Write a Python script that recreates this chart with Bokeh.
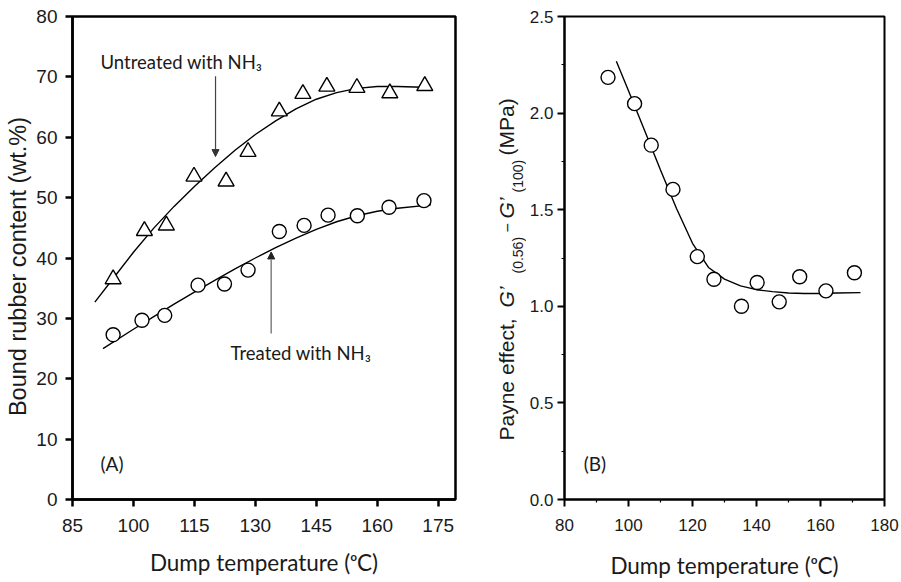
from bokeh.plotting import figure
from bokeh.models import Range1d, Label, Arrow, NormalHead, FixedTicker, NumeralTickFormatter
from bokeh.layouts import row
from bokeh.embed import file_html
from bokeh.resources import INLINE

# ---------------- data: panel (A) ----------------
temp_untreated = [95.0, 102.7, 108.1, 114.9, 122.8, 128.2, 135.9, 141.7, 147.6, 155.0, 163.1, 171.7]
bound_untreated = [36.5, 44.5, 45.4, 53.5, 52.7, 57.6, 64.3, 67.2, 68.4, 68.2, 67.3, 68.5]
temp_treated = [95.0, 102.1, 107.7, 115.9, 122.4, 128.2, 135.9, 142.0, 147.9, 155.1, 162.9, 171.5]
bound_treated = [27.3, 29.7, 30.5, 35.5, 35.7, 38.0, 44.4, 45.4, 47.1, 47.0, 48.4, 49.5]

fit_untreated_x = [90.5, 95, 100, 105, 110, 115, 120, 125, 130, 135, 140, 145, 150, 155, 160, 165, 173.2]
fit_untreated_y = [32.7, 36.6, 40.95, 44.95, 48.55, 51.85, 54.95, 57.85, 60.45, 62.7, 64.7, 66.3, 67.4, 68.1, 68.4, 68.4, 68.25]
fit_treated_x = [92.5, 100, 105, 110, 115, 120, 125, 130, 135, 140, 145, 150, 155, 160, 165, 173.2]
fit_treated_y = [25.0, 28.2, 30.3, 32.35, 34.35, 36.3, 38.2, 40.0, 41.7, 43.3, 44.75, 46.0, 47.0, 47.75, 48.25, 48.8]

a_xticks = [85, 100, 115, 130, 145, 160, 175]
a_yticks = [0, 10, 20, 30, 40, 50, 60, 70, 80]

# ---------------- data: panel (B) ----------------
temp_b = [93.6, 101.9, 107.1, 113.9, 121.5, 126.7, 135.3, 140.2, 147.1, 153.5, 161.7, 170.6]
payne_b = [2.185, 2.049, 1.834, 1.605, 1.257, 1.140, 1.000, 1.123, 1.023, 1.153, 1.080, 1.174]
fit_b_x = [96.2, 100, 105, 110, 115, 120, 125, 130, 135, 140, 145, 150, 155, 160, 165, 172.5]
fit_b_y = [2.268, 2.116, 1.911, 1.706, 1.506, 1.326, 1.201, 1.141, 1.106, 1.086, 1.076, 1.0685, 1.066, 1.066, 1.0685, 1.071]

b_xticks = [80, 100, 120, 140, 160, 180]
b_xminor = [90, 110, 130, 150, 170]
b_yticks = [0.0, 0.5, 1.0, 1.5, 2.0, 2.5]
b_yminor = [0.25, 0.75, 1.25, 1.75, 2.25]

TICK_FONT = "Liberation Sans"
CAL_FONT = "Lato"
TXT = "#1a1a1a"
H = 581
TOP = 16           # frame top (page px)
BOT = 499          # frame bottom (page px)
BB = H - BOT       # bottom border


def style(p, lw, tick_size):
    p.xgrid.visible = False
    p.ygrid.visible = False
    p.outline_line_color = "black"
    p.outline_line_width = lw
    p.outline_line_alpha = 1.0
    p.background_fill_color = "white"
    p.border_fill_color = "white"
    for ax in (p.xaxis[0], p.yaxis[0]):
        ax.axis_line_width = lw
        ax.axis_line_color = "black"
        ax.major_tick_line_width = lw
        ax.major_tick_line_color = "black"
        ax.major_tick_out = 7
        ax.major_tick_in = 0
        ax.minor_tick_in = 0
        ax.minor_tick_out = 3
        ax.minor_tick_line_width = 1.2
        ax.minor_tick_line_color = "black"
        ax.major_label_text_font = TICK_FONT
        ax.major_label_text_font_size = tick_size
        ax.major_label_text_color = TXT
        ax.axis_label_text_font_style = "normal"
        ax.axis_label_text_color = TXT


def strip(x0, x1):
    """Narrow text-only figure whose y range equals page pixels (frames are row-aligned)."""
    s = figure(width=x1 - x0, height=H, x_range=Range1d(x0, x1), y_range=Range1d(BOT, TOP),
               output_backend="svg", toolbar_location=None, x_axis_type=None, y_axis_type=None,
               min_border_left=0, min_border_right=0, min_border_top=TOP, min_border_bottom=BB)
    s.xgrid.visible = False
    s.ygrid.visible = False
    s.outline_line_color = None
    s.background_fill_color = "white"
    s.border_fill_color = "white"
    return s


ROT = 1.5707963
MID = 0.347   # offset (in em) between the alphabetic baseline and the box centre


def rot_label(fig, base_x, y, text, size, style="normal", align="left", font=TICK_FONT):
    fig.add_layout(Label(x=base_x - MID * size, y=y, text=text, text_font=font,
                         text_font_size=f"{size}px", text_font_style=style,
                         text_align=align, text_baseline="middle",
                         angle=ROT, text_color=TXT))


# ============ strip with the y label of panel A ============
SL0, SL1 = 0, 32
sA = strip(SL0, SL1)
rot_label(sA, 26, 266, "Bound rubber content (wt.%)", 23.5, align="center")

# ================= Panel A =================
P1R = 470
p1 = figure(width=P1R - SL1, height=H, x_range=Range1d(85, 179.26), y_range=Range1d(0, 80),
            output_backend="svg", toolbar_location=None,
            min_border_left=72 - SL1, min_border_right=P1R - 455, min_border_top=TOP,
            min_border_bottom=BB)
style(p1, 2.5, "19px")
p1.xaxis.ticker = FixedTicker(ticks=a_xticks, minor_ticks=[])
p1.yaxis.ticker = FixedTicker(ticks=a_yticks, minor_ticks=[])
p1.xaxis.major_label_standoff = 12
p1.yaxis.major_label_standoff = 8
p1.xaxis.axis_label = "Dump temperature (\u1d52C)"
p1.xaxis.axis_label_text_font = CAL_FONT
p1.xaxis.axis_label_text_font_size = "22.5px"
p1.xaxis.axis_label_standoff = 14

p1.line(fit_untreated_x, fit_untreated_y, line_color="black", line_width=1.4)
p1.line(fit_treated_x, fit_treated_y, line_color="black", line_width=1.4)
p1.scatter(temp_untreated, bound_untreated, marker="triangle", size=16,
           fill_color="white", line_color="black", line_width=1.4)
p1.scatter(temp_treated, bound_treated, marker="circle", size=14,
           fill_color="white", line_color="black", line_width=1.4)

p1.add_layout(Arrow(end=NormalHead(size=7, fill_color="#333333", line_color="#333333"),
                    x_start=120.2, y_start=70.1, x_end=120.2, y_end=56.8,
                    line_color="#444444", line_width=1.2))
p1.add_layout(Arrow(end=NormalHead(size=7, fill_color="#222222", line_color="#222222"),
                    x_start=133.9, y_start=27.5, x_end=133.9, y_end=41.0,
                    line_color="#888888", line_width=1.6))

p1.add_layout(Label(x=91.9, y=72.4, text="Untreated with NH\u2083", text_font=CAL_FONT,
                    text_font_size="18.5px", text_baseline="middle", text_color=TXT))
p1.add_layout(Label(x=123.9, y=24.3, text="Treated with NH\u2083", text_font=CAL_FONT,
                    text_font_size="18.5px", text_baseline="middle", text_color=TXT))
p1.add_layout(Label(x=91.9, y=5.9, text="(A)", text_font=CAL_FONT,
                    text_font_size="19px", text_baseline="middle", text_color=TXT))

# ============ strip with the composed y label of panel B ============
LX0, LX1 = P1R, 526
sB = strip(LX0, LX1)
main_x = 513.5
sub_x = 522.5
rot_label(sB, main_x, 440, "Payne effect,", 21)
rot_label(sB, main_x, 307, "G\u2019", 21, style="italic")
rot_label(sB, sub_x, 273, "(0.56)", 14)
rot_label(sB, main_x - 1, 232, "\u2212", 16)
rot_label(sB, main_x, 218, "G\u2019", 21, style="italic")
rot_label(sB, sub_x, 192, "(100)", 14)
rot_label(sB, main_x, 155, "(MPa)", 21)

# ================= Panel B =================
P2R = 899
p2 = figure(width=P2R - LX1, height=H, x_range=Range1d(80, 180), y_range=Range1d(0, 2.5),
            output_backend="svg", toolbar_location=None,
            min_border_left=564 - LX1, min_border_right=P2R - 884, min_border_top=TOP,
            min_border_bottom=BB)
style(p2, 2.0, "17px")
p2.xaxis.ticker = FixedTicker(ticks=b_xticks, minor_ticks=b_xminor)
p2.yaxis.ticker = FixedTicker(ticks=b_yticks, minor_ticks=b_yminor)
p2.yaxis.formatter = NumeralTickFormatter(format="0.0")
p2.xaxis.major_label_standoff = 12
p2.yaxis.major_label_standoff = 4
p2.xaxis.axis_label = "Dump temperature (\u1d52C)"
p2.xaxis.axis_label_text_font = CAL_FONT
p2.xaxis.axis_label_text_font_size = "22.5px"
p2.xaxis.axis_label_standoff = 18

p2.line(fit_b_x, fit_b_y, line_color="black", line_width=1.4)
p2.scatter(temp_b, payne_b, marker="circle", size=14,
           fill_color="white", line_color="black", line_width=1.4)

p2.add_layout(Label(x=86.0, y=0.184, text="(B)", text_font=CAL_FONT,
                    text_font_size="19px", text_baseline="middle", text_color=TXT))

layout = row(sA, p1, sB, p2)
open("out.html", "w").write(file_html(layout, INLINE))
